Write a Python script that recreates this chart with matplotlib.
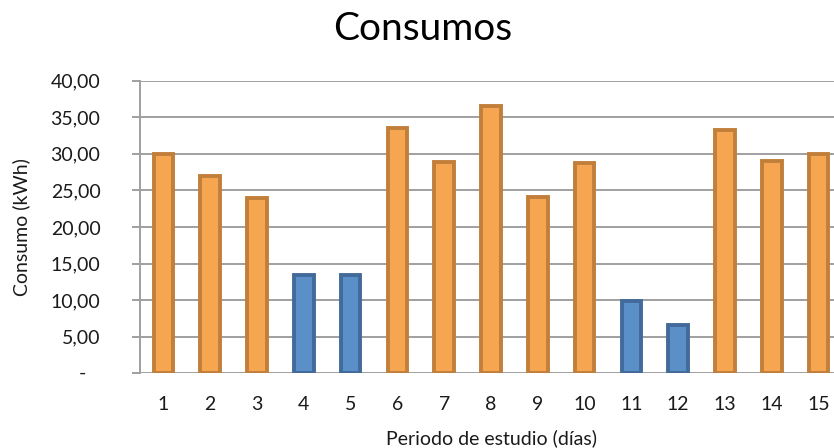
import matplotlib
matplotlib.use("Agg")
import matplotlib.pyplot as plt
from matplotlib.ticker import FuncFormatter

# Daily consumption over the study period
dias = [str(d) for d in range(1, 16)]
consumo_kwh = [30.0, 27.0, 24.0, 13.5, 13.4, 33.6, 28.9, 36.5, 24.1, 28.8, 9.9, 6.6, 33.3, 29.0, 30.0]
tipo_dia = ["lab", "lab", "lab", "fin", "fin", "lab", "lab", "lab", "lab", "lab",
            "fin", "fin", "lab", "lab", "lab"]
y_ticks = [0, 5, 10, 15, 20, 25, 30, 35, 40]

relleno = {"lab": "#F6A550", "fin": "#5B8FC8"}
borde = {"lab": "#C27F3B", "fin": "#426A9A"}

plt.rcParams["font.family"] = ["Lato", "DejaVu Sans"]
texto = "#1a1a1a"

fig = plt.figure(figsize=(8.34, 4.48), dpi=100)
ax = fig.add_axes([140 / 834, 1 - 373.3 / 448, 702 / 834, (373.3 - 80.7) / 448])

x = list(range(1, len(dias) + 1))
ax.bar(x, consumo_kwh, width=0.42,
       color=[relleno[t] for t in tipo_dia],
       edgecolor=[borde[t] for t in tipo_dia],
       linewidth=2.8, zorder=3)

ax.set_xlim(0.5, len(dias) + 0.5)
ax.set_ylim(0, 40)
ax.set_yticks(y_ticks)
# accounting-style labels: zero is drawn separately as an indented dash
ax.yaxis.set_major_formatter(FuncFormatter(
    lambda v, p: "" if v == 0 else f"{v:.2f}".replace(".", ",")))
ax.text(-0.077, y_ticks[0], "-", transform=ax.get_yaxis_transform(),
        ha="right", va="center", fontsize=14, color=texto)
ax.set_xticks(x)
ax.set_xticklabels(dias)

ax.grid(axis="y", color="#A0A0A0", linewidth=1.4, zorder=0)
for s in ["top", "right", "bottom"]:
    ax.spines[s].set_visible(False)
ax.spines["left"].set_color("#A0A0A0")
ax.spines["left"].set_linewidth(1.4)
ax.tick_params(axis="y", length=6, width=1.4, color="#A0A0A0",
               labelsize=14, labelcolor=texto, pad=22.5)
ax.tick_params(axis="x", length=0, labelsize=14, labelcolor=texto, pad=16)

ax.set_xlabel("Periodo de estudio (días)", fontsize=14, color=texto, labelpad=12)
ax.set_ylabel("Consumo (kWh)", fontsize=14, color=texto)
ax.yaxis.set_label_coords(-0.157, 0.5)
fig.text(423 / 834, 1 - 29 / 448, "Consumos", ha="center", va="center",
         fontsize=28, color="#000000")

fig.savefig("out.png", dpi=100)
